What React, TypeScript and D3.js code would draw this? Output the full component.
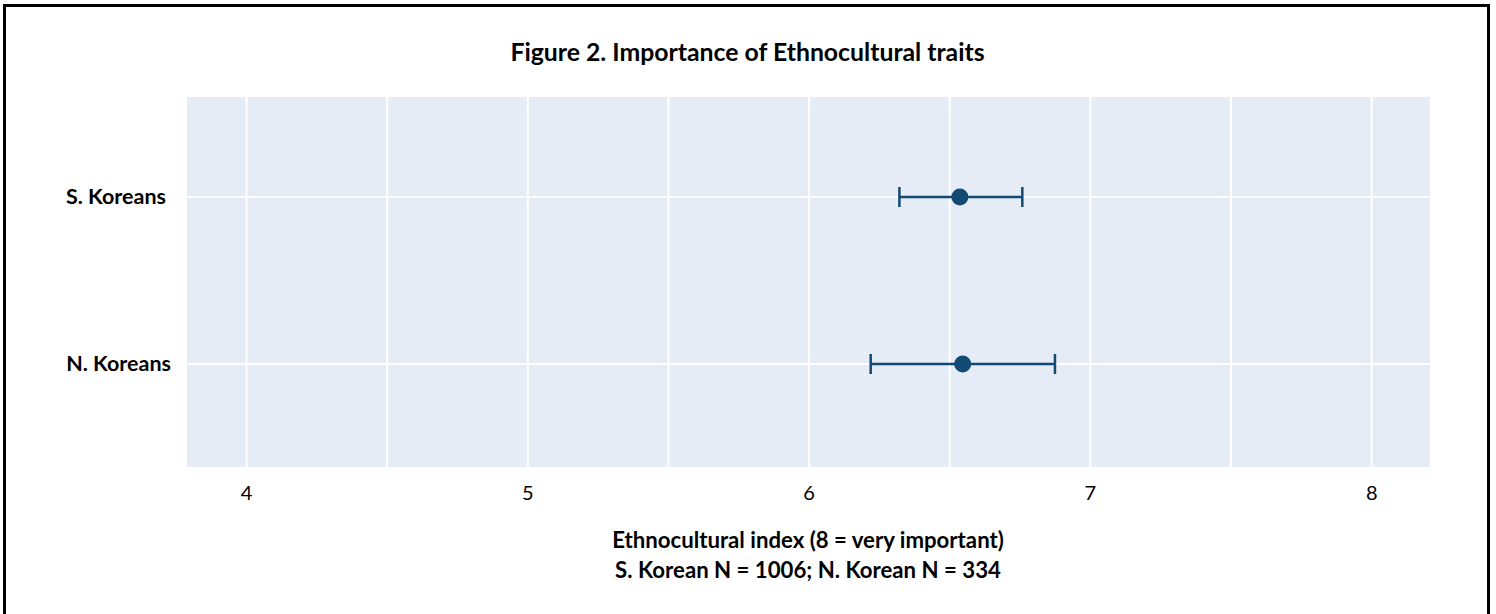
import React from "react";
import * as d3 from "d3";

const categories = ["S. Koreans", "N. Koreans"];
const means = [6.536, 6.546];
const lowers = [6.321, 6.219];
const uppers = [6.758, 6.874];
const xTicks = [4, 5, 6, 7, 8];
const xMinorTicks = [4.5, 5.5, 6.5, 7.5];
const title = "Figure 2. Importance of Ethnocultural traits";
const xTitle1 = "Ethnocultural index (8 = very important)";
const xTitle2 = "S. Korean N = 1006; N. Korean N = 334";

const W = 1496, H = 614;
const plot = { left: 187, right: 1430, top: 97, bottom: 467 };
const color = "#134a73";
const font = "Lato, 'Open Sans', sans-serif";
const labelRight = [166, 171];

export default function App() {
  const x = d3.scaleLinear().domain([4, 8]).range([246.5, 1371.7]);
  const y = d3.scalePoint<string>().domain(categories).range([197, 364]);
  return (
    <svg width={W} height={H} style={{ position: "absolute", left: 0, top: 0, background: "#fff" }}>
      <rect x={4.5} y={5.5} width={1484} height={H} fill="none" stroke="#000" strokeWidth={3} />
      <text x={747.5} y={61} textAnchor="middle" fontFamily={font} fontWeight="bold" fontSize={24.8} fill="#000">{title}</text>
      <rect x={plot.left} y={plot.top} width={plot.right - plot.left} height={plot.bottom - plot.top} fill="#E5ECF6" />
      {[...xTicks, ...xMinorTicks].map((t) => (
        <line key={"g" + t} x1={x(t)} x2={x(t)} y1={plot.top} y2={plot.bottom} stroke="#fff" strokeWidth={2} />
      ))}
      {categories.map((c) => (
        <line key={"h" + c} x1={plot.left} x2={plot.right} y1={y(c)} y2={y(c)} stroke="#fff" strokeWidth={2} />
      ))}
      {xTicks.map((t) => (
        <text key={"t" + t} x={x(t)} y={500} textAnchor="middle" fontFamily={font} fontSize={20} fill="#000">{t}</text>
      ))}
      {categories.map((c, i) => (
        <text key={"l" + c} x={labelRight[i]} y={(y(c) as number) + 7} textAnchor="end" fontFamily={font} fontWeight="bold" fontSize={21.5} fill="#000">{c}</text>
      ))}
      {categories.map((c, i) => {
        const cy = y(c) as number;
        return (
          <g key={"e" + c}>
            <line x1={x(lowers[i])} x2={x(uppers[i])} y1={cy} y2={cy} stroke={color} strokeWidth={2.5} />
            <line x1={x(lowers[i])} x2={x(lowers[i])} y1={cy - 10} y2={cy + 10} stroke={color} strokeWidth={2.5} />
            <line x1={x(uppers[i])} x2={x(uppers[i])} y1={cy - 10} y2={cy + 10} stroke={color} strokeWidth={2.5} />
            <circle cx={x(means[i])} cy={cy} r={8.5} fill={color} />
          </g>
        );
      })}
      <text x={808} y={548} textAnchor="middle" fontFamily={font} fontWeight="bold" fontSize={22.2} fill="#000">{xTitle1}</text>
      <text x={808} y={578} textAnchor="middle" fontFamily={font} fontWeight="bold" fontSize={22.2} fill="#000">{xTitle2}</text>
    </svg>
  );
}
